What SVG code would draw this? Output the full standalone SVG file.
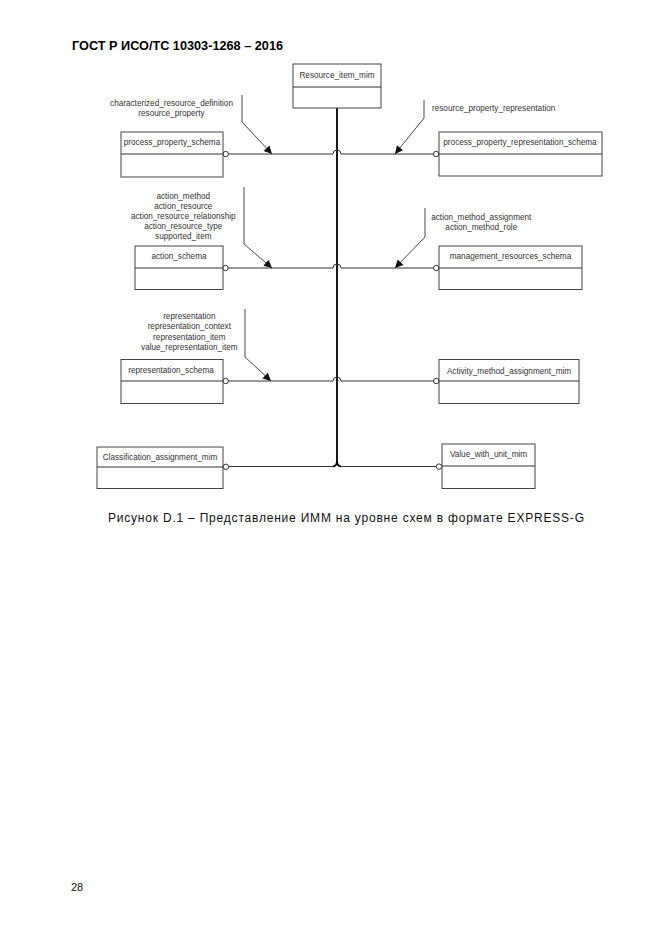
<svg xmlns="http://www.w3.org/2000/svg" width="661" height="935" viewBox="0 0 661 935">
<style>
text{font-family:"Liberation Sans",Arial,sans-serif;fill:#333}
.lbl{font-size:8.2px}
.c{text-anchor:middle}
.box{fill:#fff;stroke:#444;stroke-width:1}
.ln{fill:none;stroke:#333;stroke-width:1}
.main{fill:none;stroke:#000;stroke-width:1.8}
.dot{fill:#fff;stroke:#333;stroke-width:1}
.arr{fill:none;stroke:#333;stroke-width:0.9;marker-end:url(#ah)}
</style>
<defs>
<marker id="ah" viewBox="0 0 10 10" refX="10" refY="5" markerWidth="9" markerHeight="8" markerUnits="userSpaceOnUse" orient="auto">
<path d="M0,0 L10,5 L0,10 z" fill="#111"/>
</marker>
</defs>
<rect width="661" height="935" fill="#fff"/>
<text x="72" y="50" font-size="12" font-weight="bold" textLength="211" lengthAdjust="spacingAndGlyphs" style="fill:#000">ГОСТ Р ИСО/ТС 10303-1268 – 2016</text>

<g id="connectors">
<path class="main" d="M337,108 V461 Q337,466 333,466.5 M337,461 Q337,466 341,466.5"/>
<path class="ln" d="M228,154 H333 a4,4 0 0 1 8,0 H436"/>
<path class="ln" d="M228,268 H333 a4,4 0 0 1 8,0 H436"/>
<path class="ln" d="M228,381 H333 a4,4 0 0 1 8,0 H436"/>
<path class="ln" d="M228,466.5 H333 M341,466.5 H436"/>
<polyline class="arr" points="242,95 242,122 272,154"/>
<polyline class="arr" points="424,100 424,118 395,154"/>
<polyline class="arr" points="244,187 244,244 272,268"/>
<polyline class="arr" points="425,208 425,237 395,268"/>
<polyline class="arr" points="245,309 245,357 271,381"/>
<circle class="dot" cx="225.7" cy="154" r="2.7"/>
<circle class="dot" cx="436.2" cy="154" r="2.7"/>
<circle class="dot" cx="225.5" cy="268" r="2.7"/>
<circle class="dot" cx="436.2" cy="268" r="2.7"/>
<circle class="dot" cx="225.7" cy="381" r="2.7"/>
<circle class="dot" cx="436.2" cy="381" r="2.7"/>
<circle class="dot" cx="225.9" cy="466.8" r="2.7"/>
<circle class="dot" cx="439" cy="466.6" r="2.7"/>
</g>

<g id="labels">
<text class="lbl c" x="171.5" y="105.5">characterized_resource_definition</text>
<text class="lbl c" x="171.5" y="116">resource_property</text>
<text class="lbl" x="432" y="111">resource_property_representation</text>
<text class="lbl c" x="183.3" y="198.8">action_method</text>
<text class="lbl c" x="183.3" y="208.8">action_resource</text>
<text class="lbl c" x="183.3" y="218.8">action_resource_relationship</text>
<text class="lbl c" x="183.3" y="228.8">action_resource_type</text>
<text class="lbl c" x="183.3" y="238.8">supported_item</text>
<text class="lbl c" x="481.3" y="220">action_method_assignment</text>
<text class="lbl c" x="481.3" y="230">action_method_role</text>
<text class="lbl c" x="189.3" y="318.8">representation</text>
<text class="lbl c" x="189.3" y="329.3">representation_context</text>
<text class="lbl c" x="189.3" y="339.8">representation_item</text>
<text class="lbl c" x="189.3" y="350.3">value_representation_item</text>
</g>

<g id="Resource_item_mim">
<rect class="box" x="293" y="64" width="88" height="44"/>
<line class="ln" x1="293" y1="87" x2="381" y2="87"/>
<text class="lbl c" x="337" y="78">Resource_item_mim</text>
</g>
<g id="process_property_schema">
<rect class="box" x="121" y="132" width="102" height="45"/>
<line class="ln" x1="121" y1="154" x2="223" y2="154"/>
<text class="lbl c" x="172" y="145">process_property_schema</text>
</g>
<g id="process_property_representation_schema">
<rect class="box" x="439" y="132" width="163" height="44"/>
<line class="ln" x1="439" y1="154" x2="602" y2="154"/>
<text class="lbl c" x="520" y="145">process_property_representation_schema</text>
</g>
<g id="action_schema">
<rect class="box" x="135" y="246" width="88" height="43.5"/>
<line class="ln" x1="135" y1="268" x2="223" y2="268"/>
<text class="lbl c" x="179" y="259">action_schema</text>
</g>
<g id="management_resources_schema">
<rect class="box" x="439" y="246" width="143" height="43.5"/>
<line class="ln" x1="439" y1="268" x2="582" y2="268"/>
<text class="lbl c" x="510.5" y="259">management_resources_schema</text>
</g>
<g id="representation_schema">
<rect class="box" x="121" y="359.5" width="102" height="44"/>
<line class="ln" x1="121" y1="381" x2="223" y2="381"/>
<text class="lbl c" x="171" y="373">representation_schema</text>
</g>
<g id="Activity_method_assignment_mim">
<rect class="box" x="439" y="359.5" width="140" height="44"/>
<line class="ln" x1="439" y1="381" x2="579" y2="381"/>
<text class="lbl c" x="509" y="373.5">Activity_method_assignment_mim</text>
</g>
<g id="Classification_assignment_mim">
<rect class="box" x="97" y="447" width="126" height="41.5"/>
<line class="ln" x1="97" y1="467" x2="223" y2="467"/>
<text class="lbl c" x="160" y="460">Classification_assignment_mim</text>
</g>
<g id="Value_with_unit_mim">
<rect class="box" x="442" y="444" width="93" height="44.5"/>
<line class="ln" x1="442" y1="466" x2="535" y2="466"/>
<text class="lbl c" x="488.5" y="457">Value_with_unit_mim</text>
</g>

<text x="108" y="522" font-size="12" textLength="476" lengthAdjust="spacing" style="fill:#111">Рисунок D.1 – Представление ИММ на уровне схем в формате EXPRESS-G</text>
<text x="71" y="891" font-size="11" style="fill:#111">28</text>
</svg>
